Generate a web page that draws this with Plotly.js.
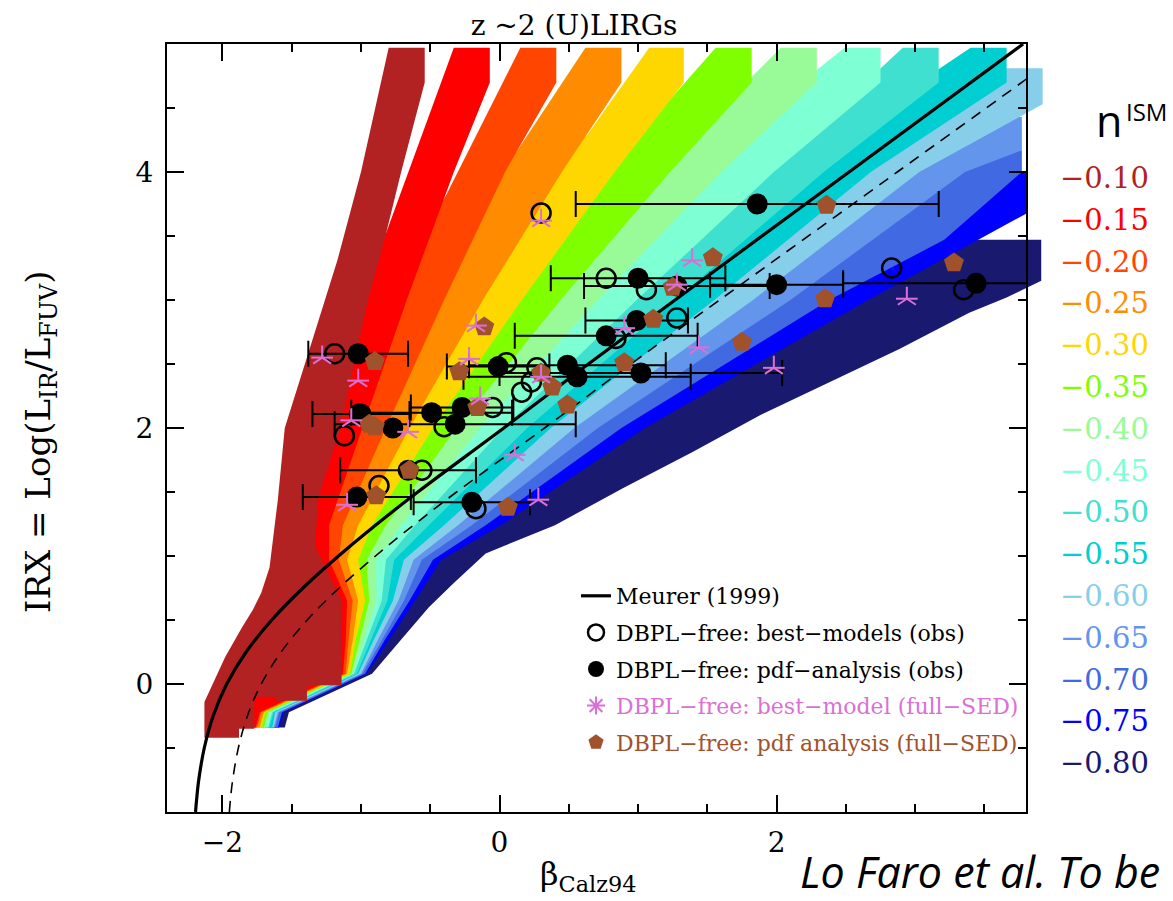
<!DOCTYPE html>
<html>
<head>
<meta charset="utf-8">
<script src="https://cdn.plot.ly/plotly-3.0.1.min.js"></script>
<style>
  html, body { margin: 0; padding: 0; background: #fff; }
  #chart { width: 1173px; height: 901px; }
</style>
</head>
<body>
<div id="chart"></div>
<script>
// ---------------------------------------------------------------------------
// IRX - beta plane for z~2 (U)LIRGs with DBPL-free attenuation-law models.
// Each coloured band is the locus of models for one ISM slope n_ISM,
// given as an outline in (beta_Calz94, IRX).
// ---------------------------------------------------------------------------

const nismLabels = ['−0.10', '−0.15', '−0.20', '−0.25', '−0.30', '−0.35', '−0.40', '−0.45',
                    '−0.50', '−0.55', '−0.60', '−0.65', '−0.70', '−0.75', '−0.80'];
const nismColors = ['#B22222', '#FF0000', '#FF4500', '#FF8C00', '#FFD700', '#7FFF00', '#98FB98', '#7FFFD4',
                    '#40E0D0', '#00CED1', '#87CEEB', '#6495ED', '#4169E1', '#0000FF', '#191970'];

// n_ISM = -0.10
const band010Beta = [-0.54, -0.54, -0.71, -0.83, -0.95, -1.15, -1.31, -1.33, -1.23, -1.14, -1.14, -1.39, -1.39, -1.62, -1.62, -1.77, -1.77, -1.88, -1.88, -2.13, -2.13, -1.98, -1.86, -1.78, -1.72, -1.66, -1.60, -1.55, -1.26, -1.17, -1.00, -0.80];
const band010IRX  = [4.97, 4.70, 4.00, 3.47, 3.00, 2.00, 1.44, 1.07, 0.85, 0.65, -0.01, -0.01, -0.13, -0.13, -0.10, -0.10, -0.35, -0.35, -0.42, -0.42, -0.14, 0.21, 0.44, 0.58, 0.71, 0.91, 1.44, 2.00, 3.00, 3.31, 4.00, 4.97];
// n_ISM = -0.15
const band015Beta = [-0.07, -0.07, -0.33, -0.67, -0.99, -1.23, -1.23, -1.10, -1.11, -1.13, -1.73, -1.76, -1.84, -1.80, -1.15, -0.89, -0.82, -0.33];
const band015IRX  = [4.97, 4.70, 4.00, 3.00, 2.00, 1.24, 0.97, 0.65, 0.34, 0.08, -0.22, -0.34, -0.34, -0.05, 3.00, 3.47, 3.52, 4.97];
// n_ISM = -0.20
const band020Beta = [0.41, 0.41, 0.04, -0.40, -0.82, -1.13, -1.16, -1.06, -1.09, -1.11, -1.72, -1.75, -1.84, -1.80, -1.15, -0.57, -0.38, 0.15];
const band020IRX  = [4.97, 4.70, 4.00, 3.00, 2.00, 1.24, 0.97, 0.65, 0.34, 0.08, -0.22, -0.34, -0.34, -0.05, 3.00, 3.47, 3.83, 4.97];
// n_ISM = -0.25
const band025Beta = [0.88, 0.88, 0.45, -0.12, -0.65, -1.02, -1.10, -1.02, -1.06, -1.10, -1.70, -1.73, -1.84, -1.80, -1.15, -0.25, -0.01, 0.13, 0.62];
const band025IRX  = [4.97, 4.70, 4.00, 3.00, 2.00, 1.24, 0.97, 0.65, 0.34, 0.08, -0.22, -0.34, -0.34, -0.05, 3.00, 3.47, 4.00, 4.17, 4.97];
// n_ISM = -0.30
const band030Beta = [1.33, 1.33, 0.83, 0.16, -0.48, -0.92, -1.02, -0.97, -1.04, -1.08, -1.69, -1.72, -1.84, -1.80, -1.15, 0.09, 0.40, 0.64, 1.08];
const band030IRX  = [4.97, 4.70, 4.00, 3.00, 2.00, 1.24, 0.97, 0.65, 0.34, 0.08, -0.22, -0.34, -0.34, -0.05, 3.00, 3.47, 4.00, 4.30, 4.97];
// n_ISM = -0.35
const band035Beta = [1.82, 1.82, 1.23, 0.44, -0.31, -0.82, -0.96, -0.94, -1.01, -1.07, -1.67, -1.70, -1.84, -1.80, -1.15, 0.42, 0.77, 1.23, 1.56];
const band035IRX  = [4.97, 4.70, 4.00, 3.00, 2.00, 1.24, 0.97, 0.65, 0.34, 0.08, -0.22, -0.34, -0.34, -0.05, 3.00, 3.47, 4.00, 4.56, 4.97];
// n_ISM = -0.40
const band040Beta = [2.29, 2.29, 1.60, 0.71, -0.14, -0.71, -0.89, -0.89, -0.98, -1.06, -1.66, -1.69, -1.84, -1.80, -1.15, 0.75, 1.17, 1.80, 2.03];
const band040IRX  = [4.97, 4.70, 4.00, 3.00, 2.00, 1.24, 0.97, 0.65, 0.34, 0.08, -0.22, -0.34, -0.34, -0.05, 3.00, 3.47, 4.00, 4.72, 4.97];
// n_ISM = -0.45
const band045Beta = [2.75, 2.75, 1.98, 0.99, 0.03, -0.61, -0.82, -0.85, -0.96, -1.05, -1.64, -1.67, -1.84, -1.80, -1.15, 1.08, 1.54, 2.24, 2.27, 2.49];
const band045IRX  = [4.97, 4.70, 4.00, 3.00, 2.00, 1.24, 0.97, 0.65, 0.34, 0.08, -0.22, -0.34, -0.34, -0.05, 3.00, 3.47, 4.00, 4.70, 4.78, 4.97];
// n_ISM = -0.50
const band050Beta = [3.17, 3.17, 2.34, 1.27, 0.20, -0.51, -0.76, -0.81, -0.93, -1.03, -1.63, -1.66, -1.84, -1.80, -1.15, 1.40, 1.93, 2.69, 2.73, 2.91];
const band050IRX  = [4.97, 4.70, 4.00, 3.00, 2.00, 1.24, 0.97, 0.65, 0.34, 0.08, -0.22, -0.34, -0.34, -0.05, 3.00, 3.47, 4.00, 4.70, 4.79, 4.97];
// n_ISM = -0.55
const band055Beta = [3.66, 3.66, 2.68, 1.55, 0.37, -0.40, -0.69, -0.77, -0.91, -1.02, -1.62, -1.64, -1.84, -1.80, -1.15, 1.72, 2.29, 3.12, 3.15, 3.40];
const band055IRX  = [4.97, 4.70, 4.00, 3.00, 2.00, 1.24, 0.97, 0.65, 0.34, 0.08, -0.22, -0.34, -0.34, -0.05, 3.00, 3.47, 4.00, 4.70, 4.79, 4.97];
// n_ISM = -0.60
const band060Beta = [3.92, 3.92, 3.03, 1.83, 0.54, -0.30, -0.62, -0.73, -0.88, -1.00, -1.60, -1.63, -1.84, -1.80, -1.15, 2.02, 2.63, 3.61, 3.64];
const band060IRX  = [4.81, 4.53, 4.00, 3.00, 2.00, 1.24, 0.97, 0.65, 0.34, 0.08, -0.22, -0.34, -0.34, -0.05, 3.00, 3.47, 4.00, 4.70, 4.81];
// n_ISM = -0.65
const band065Beta = [3.77, 3.77, 3.36, 2.10, 0.71, -0.20, -0.56, -0.69, -0.85, -0.99, -1.59, -1.62, -1.84, -1.80, -1.15, 2.33, 2.97, 3.69];
const band065IRX  = [4.43, 4.17, 4.00, 3.00, 2.00, 1.24, 0.97, 0.65, 0.34, 0.08, -0.22, -0.34, -0.34, -0.05, 3.00, 3.47, 4.00, 4.43];
// n_ISM = -0.70
const band070Beta = [3.77, 3.77, 3.21, 2.38, 0.88, -0.10, -0.48, -0.65, -0.83, -0.97, -1.57, -1.60, -1.84, -1.80, -1.15, 2.63, 3.30, 3.61];
const band070IRX  = [4.17, 4.00, 3.47, 3.00, 2.00, 1.24, 0.97, 0.65, 0.34, 0.08, -0.22, -0.34, -0.34, -0.05, 3.00, 3.47, 4.00, 4.17];
// n_ISM = -0.75
const band075Beta = [3.81, 3.81, 2.66, 1.05, 0.01, -0.42, -0.61, -0.80, -0.96, -1.56, -1.59, -1.84, -1.80, -1.15, 3.15, 3.69];
const band075IRX  = [4.00, 3.68, 3.00, 2.00, 1.24, 0.97, 0.65, 0.34, 0.08, -0.22, -0.34, -0.34, -0.05, 3.00, 3.47, 4.00];
// n_ISM = -0.80
const band080Beta = [3.91, 3.91, 3.66, 3.39, 2.89, 2.38, 1.88, 1.39, 0.89, 0.40, -0.10, -0.33, -0.51, -0.70, -0.92, -1.52, -1.55, -1.84, -1.80, -1.15, 3.39];
const band080IRX  = [3.47, 3.15, 3.02, 2.90, 2.62, 2.36, 2.10, 1.81, 1.53, 1.24, 1.02, 0.79, 0.60, 0.36, 0.08, -0.22, -0.34, -0.34, -0.05, 3.00, 3.47];

// Meurer et al. (1999) relation, and the shifted (dashed) relation
const relIRX       = [-1, -0.9, -0.75, -0.5, -0.25, 0, 0.25, 0.5, 0.75, 1, 1.25, 1.5, 2, 2.5, 3, 4, 5];
const meurerBeta   = [-2.194, -2.186, -2.171, -2.131, -2.067, -1.969, -1.829, -1.644, -1.419, -1.162, -0.884, -0.590, 0.031, 0.641, 1.267, 2.523, 3.779];
const dashedBeta   = [-1.950, -1.942, -1.926, -1.885, -1.820, -1.720, -1.576, -1.388, -1.158, -0.895, -0.610, -0.310, 0.325, 0.948, 1.588, 2.871, 4.155];

// DBPL-free: pdf-analysis (obs) -- filled circles with beta uncertainties
const pdfObsBeta = [-1.02, -1.00, -0.49, -0.27, -0.32, -0.01, 0.49, 0.56, 1.02, 0.77, 0.99, 1.00, 1.28, 2.00, 1.86, 3.44, -1.03, -0.20, -0.66];
const pdfObsIRX  = [2.58, 2.11, 2.12, 2.16, 2.03, 2.48, 2.49, 2.40, 2.43, 2.72, 2.84, 3.17, 3.11, 3.12, 3.75, 3.13, 1.46, 1.42, 1.67];
const pdfObsErr  = [0.36, 0.35, 0.58, 0.37, 0.87, 0.37, 0.71, 0.82, 1.02, 0.66, 0.37, 0.63, 0.67, 0.48, 1.31, 0.96, 0.39, 0.42, 0.49];
const pdfObsNoErrBeta = [-0.77];
const pdfObsNoErrIRX  = [2.00];

// DBPL-free: best-models (obs) -- open circles
const bestObsBeta = [0.30, 0.77, 1.06, 1.28, 0.84, 2.83, 3.35, -1.19, 0.05, 0.27, 0.23, 0.16, -1.01, -1.12, -0.40, -0.05, -0.56, -0.87, -0.17];
const bestObsIRX  = [3.68, 3.17, 3.08, 2.86, 2.70, 3.25, 3.08, 2.58, 2.51, 2.47, 2.36, 2.28, 2.11, 1.94, 2.01, 2.16, 1.67, 1.55, 1.37];

// DBPL-free: best-model (full-SED) -- asterisks
const bestSedBeta = [0.30, 1.39, 1.28, 0.90, 1.44, -0.17, -1.28, -1.02, -0.22, 0.30, -1.07, -0.66, -0.14, 0.11, -1.10, 0.28, 1.98, 2.94];
const bestSedIRX  = [3.62, 3.31, 3.12, 2.78, 2.63, 2.80, 2.55, 2.37, 2.54, 2.40, 2.06, 1.97, 2.23, 1.79, 1.40, 1.44, 2.47, 3.01];

// DBPL-free: pdf analysis (full-SED) -- pentagons
const pdfSedBeta = [2.36, 1.54, 1.25, 1.11, 0.90, -0.11, -0.90, -0.29, 0.30, 0.38, 0.49, -0.90, -0.94, -0.16, -0.65, -0.89, 0.06, 1.75, 2.35, 3.28];
const pdfSedIRX  = [3.74, 3.33, 3.10, 2.85, 2.51, 2.79, 2.52, 2.44, 2.43, 2.32, 2.18, 2.01, 2.03, 2.16, 1.67, 1.47, 1.38, 2.67, 3.01, 3.29];

// ---------------------------------------------------------------------------
const outlines = [
  [band010Beta, band010IRX], [band015Beta, band015IRX], [band020Beta, band020IRX],
  [band025Beta, band025IRX], [band030Beta, band030IRX], [band035Beta, band035IRX],
  [band040Beta, band040IRX], [band045Beta, band045IRX], [band050Beta, band050IRX],
  [band055Beta, band055IRX], [band060Beta, band060IRX], [band065Beta, band065IRX],
  [band070Beta, band070IRX], [band075Beta, band075IRX], [band080Beta, band080IRX]
];

const ORCHID = '#DA70D6';
const SIENNA = '#A0522D';
const SERIF = 'DejaVu Serif, serif';

// page geometry (pixels): the framed panel, and a slightly wider band layer
// so the model blocks may run a little past the right-hand frame
const W = 1173, H = 901;
const frameL = 167, frameR = 1026, frameT = 44, frameB = 812;
const layerR = 1050;
const xMin = -2.4, xMax = 3.8;
const pxPerUnit = (frameR - frameL) / (xMax - xMin);
const frameDomain = (frameR - frameL) / (layerR - frameL);
const fx = px => (px - frameL) / (layerR - frameL);
const fy = py => (frameB - py) / (frameB - frameT);

const traces = [];

// flattest band first so the steeper (redder) bands lie on top
for (let i = outlines.length - 1; i >= 0; i--) {
  traces.push({
    type: 'scatter', mode: 'lines', xaxis: 'x', yaxis: 'y',
    x: outlines[i][0], y: outlines[i][1],
    fill: 'toself', fillcolor: nismColors[i],
    line: { width: 0, color: nismColors[i] },
    hoverinfo: 'skip', showlegend: false
  });
}

const onFrame = { xaxis: 'x2', yaxis: 'y2', hoverinfo: 'skip' };

traces.push(Object.assign({
  type: 'scatter', mode: 'lines', x: dashedBeta, y: relIRX,
  line: { color: '#000', width: 1.6, dash: '11px,8px', shape: 'spline' },
  showlegend: false
}, onFrame));
traces.push(Object.assign({
  type: 'scatter', mode: 'lines', x: meurerBeta, y: relIRX,
  name: 'Meurer (1999)', legendrank: 1, legendgroup: 'g1',
  line: { color: '#000', width: 3.2, shape: 'spline' }
}, onFrame));

traces.push(Object.assign({
  type: 'scatter', mode: 'markers', x: pdfObsBeta, y: pdfObsIRX,
  name: 'DBPL−free: pdf−analysis (obs)', legendrank: 3, legendgroup: 'g3',
  marker: { symbol: 'circle', size: 21, color: '#000' },
  error_x: { type: 'data', symmetric: true, array: pdfObsErr, color: '#000', thickness: 2, width: 13 }
}, onFrame));
traces.push(Object.assign({
  type: 'scatter', mode: 'markers', x: pdfObsNoErrBeta, y: pdfObsNoErrIRX,
  marker: { symbol: 'circle', size: 21, color: '#000' },
  showlegend: false, legendgroup: 'g3'
}, onFrame));
traces.push(Object.assign({
  type: 'scatter', mode: 'markers', x: bestObsBeta, y: bestObsIRX,
  name: 'DBPL−free: best−models (obs)', legendrank: 2, legendgroup: 'g2',
  marker: { symbol: 'circle-open', size: 19, color: '#000', line: { color: '#000', width: 2.5 } }
}, onFrame));
traces.push(Object.assign({
  type: 'scatter', mode: 'markers', x: [null], y: [null],
  name: '<span style="color:' + ORCHID + '">DBPL−free: best−model (full−SED)</span>',
  legendrank: 4, legendgroup: 'g4',
  marker: { symbol: 'asterisk-open', size: 15, color: ORCHID, line: { color: ORCHID, width: 2 } }
}, onFrame));
traces.push(Object.assign({
  type: 'scatter', mode: 'markers', x: pdfSedBeta, y: pdfSedIRX,
  name: '<span style="color:' + SIENNA + '">DBPL−free: pdf analysis (full−SED)</span>',
  legendrank: 5, legendgroup: 'g5',
  marker: { symbol: 'pentagon', size: 21, color: SIENNA }
}, onFrame));
// five-armed asterisk = three-armed "y" plus a horizontal bar
traces.push(Object.assign({
  type: 'scatter', mode: 'markers', x: bestSedBeta, y: bestSedIRX,
  marker: { symbol: 'y-up-open', size: 15, color: ORCHID, line: { color: ORCHID, width: 2 } },
  showlegend: false, legendgroup: 'g4'
}, onFrame));
traces.push(Object.assign({
  type: 'scatter', mode: 'markers', x: bestSedBeta, y: bestSedIRX,
  marker: { symbol: 'line-ew-open', size: 15.5, color: ORCHID, line: { color: ORCHID, width: 2 } },
  showlegend: false, legendgroup: 'g4'
}, onFrame));

// ---------------------------------------------------------------------------
const annotations = [];
annotations.push({
  xref: 'paper', yref: 'paper', x: fx(40), y: fy(442), textangle: -90,
  text: 'IRX = Log(L<sub>IR</sub>/L<sub>FUV</sub>)', showarrow: false,
  xanchor: 'center', yanchor: 'middle',
  font: { family: SERIF, size: 34, color: '#000' }
});
annotations.push({
  xref: 'paper', yref: 'paper', x: fx(588), y: fy(876),
  text: 'β<sub>Calz94</sub>', showarrow: false,
  xanchor: 'center', yanchor: 'middle',
  font: { family: SERIF, size: 32, color: '#000' }
});
annotations.push({
  xref: 'paper', yref: 'paper', x: fx(1109), y: fy(120),
  text: 'n', showarrow: false, xanchor: 'center', yanchor: 'middle',
  font: { family: 'Open Sans, sans-serif', size: 43, color: '#000' }
});
annotations.push({
  xref: 'paper', yref: 'paper', x: fx(1146), y: fy(111),
  text: 'ISM', showarrow: false, xanchor: 'center', yanchor: 'middle',
  font: { family: 'Open Sans, sans-serif', size: 24, color: '#000' }
});
for (let i = 0; i < nismLabels.length; i++) {
  annotations.push({
    xref: 'paper', yref: 'paper', x: fx(1104), y: fy(178 + 41.8 * i),
    text: nismLabels[i], showarrow: false, xanchor: 'center', yanchor: 'middle',
    font: { family: SERIF, size: 29, color: nismColors[i] }
  });
}
annotations.push({
  xref: 'paper', yref: 'paper', x: fx(980), y: fy(871),
  text: '<i>Lo Faro et al. To be</i>', showarrow: false, xanchor: 'center', yanchor: 'middle',
  font: { family: 'Open Sans, sans-serif', size: 43, color: '#000' }
});

const tickStyle = {
  ticks: 'inside', ticklen: 17, tickwidth: 2, tickcolor: '#000',
  tickfont: { family: SERIF, size: 28, color: '#000' },
  minor: { ticks: 'inside', ticklen: 8, tickwidth: 2, tickcolor: '#000', dtick: 0.5, showgrid: false },
  showgrid: false, zeroline: false,
  showline: true, linecolor: '#000', linewidth: 2, mirror: 'ticks',
  fixedrange: true
};

const layout = {
  width: W, height: H,
  margin: { l: frameL, r: W - layerR, t: frameT, b: H - frameB, pad: 0 },
  paper_bgcolor: '#fff', plot_bgcolor: 'rgba(0,0,0,0)',
  font: { family: SERIF, color: '#000' },
  title: {
    text: 'z ~2 (U)LIRGs',
    font: { family: SERIF, size: 28, color: '#000' },
    xref: 'paper', x: fx(574), xanchor: 'center',
    yref: 'container', y: 1 - 25 / H, yanchor: 'middle'
  },
  // band layer: same scale as the framed axes, but a little wider
  xaxis: { visible: false, domain: [0, 1], range: [xMin, xMin + (layerR - frameL) / pxPerUnit], fixedrange: true },
  yaxis: { visible: false, domain: [0, 1], range: [-1, 5], fixedrange: true },
  // framed axes carrying ticks, lines and the measured points
  xaxis2: Object.assign({}, tickStyle, { domain: [0, frameDomain], range: [xMin, xMax], anchor: 'y2', tick0: 0, dtick: 2, ticklabelstandoff: 4 }),
  yaxis2: Object.assign({}, tickStyle, { domain: [0, 1], range: [-1, 5], anchor: 'x2', tick0: 0, dtick: 2, ticklabelstandoff: 6 }),
  showlegend: true,
  legend: {
    x: fx(576), y: fy(575), xanchor: 'left', yanchor: 'top',
    bgcolor: 'rgba(0,0,0,0)', borderwidth: 0,
    font: { family: SERIF, size: 22, color: '#000' },
    tracegroupgap: 5, traceorder: 'grouped'
  },
  annotations: annotations,
  hovermode: false
};

Plotly.newPlot('chart', traces, layout, { displayModeBar: false, staticPlot: true });
</script>
</body>
</html>
